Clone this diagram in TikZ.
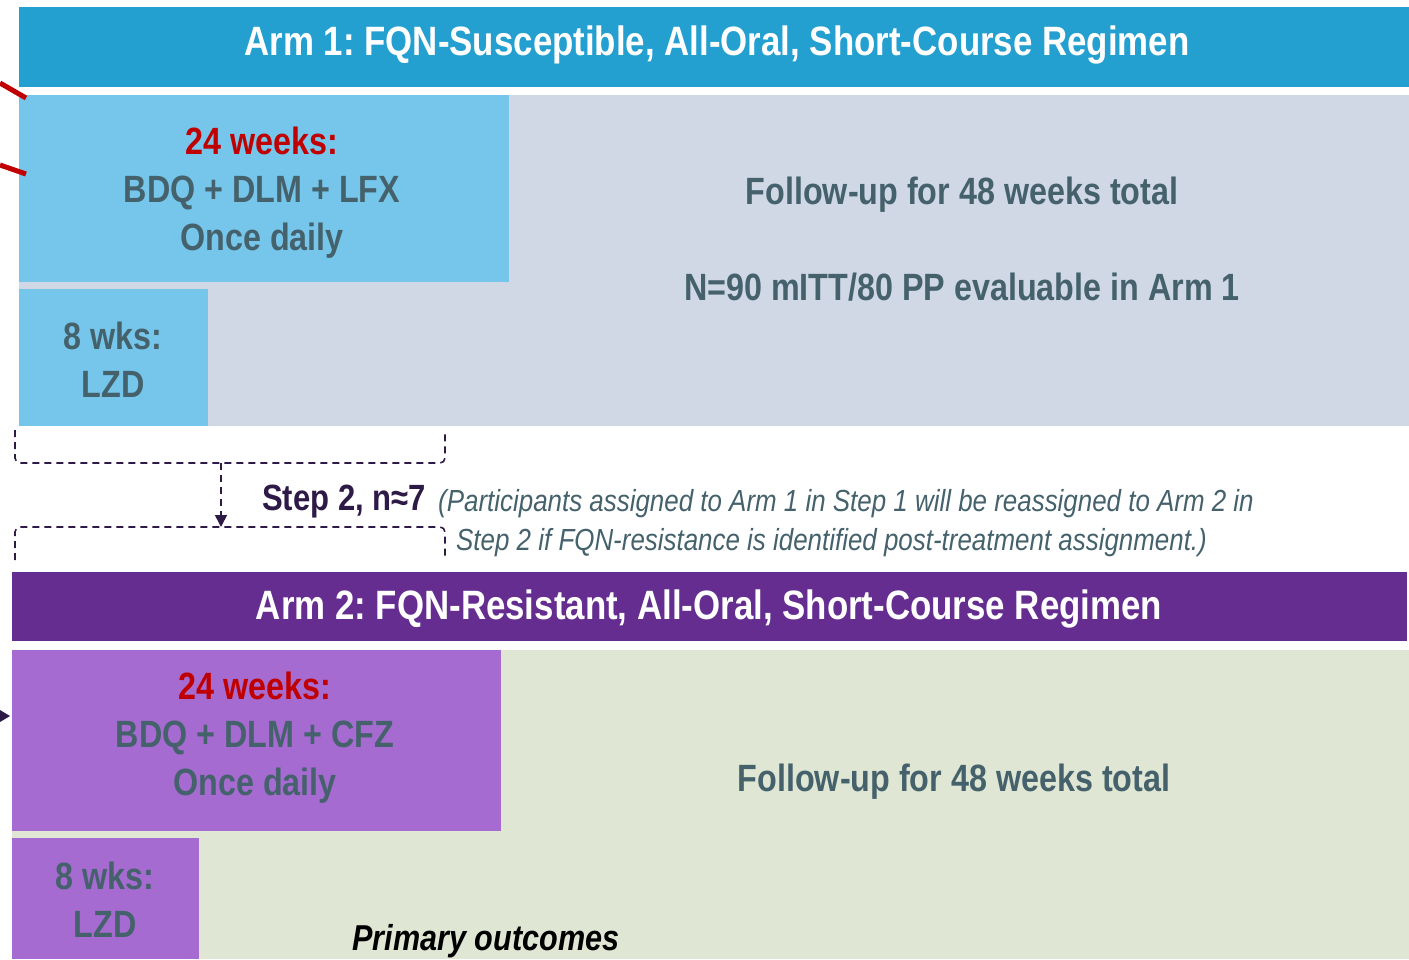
\documentclass[tikz,border=0pt]{standalone}
\usepackage{fontspec}
\setmainfont{Liberation Sans}[FakeStretch=0.85]
\usetikzlibrary{arrows.meta}
\definecolor{hdrblue}{HTML}{239FD0}
\definecolor{lightblue}{HTML}{75C6EA}
\definecolor{grayblue}{HTML}{D0D8E6}
\definecolor{hdrpurple}{HTML}{652D90}
\definecolor{lightpurple}{HTML}{A56BD1}
\definecolor{palegreen}{HTML}{DFE6D3}
\definecolor{tealgray}{HTML}{45626C}
\definecolor{darkred}{HTML}{C00000}
\definecolor{darkpurple}{HTML}{2E1A47}
\tikzset{
  box/.style={inner sep=0pt, outer sep=0pt, anchor=north west, align=center},
  hdrtext/.style={font=\fontsize{41}{48}\selectfont\bfseries, text=white},
  bodytext/.style={font=\fontsize{38}{48}\selectfont\bfseries, text=tealgray, align=center},
  dashline/.style={draw=darkpurple, line width=1.6pt, dash pattern=on 7pt off 5pt},
}
\begin{document}
\frenchspacing
\begin{tikzpicture}[x=1pt,y=-1pt]
\useasboundingbox (0,0) rectangle (1409,959);
% Arm 1
\node[box, fill=hdrblue, minimum width=1390pt, minimum height=80pt] (h1) at (19,7) {};
\node[hdrtext] (h1t) at (717,45) {Arm 1: FQN-Susceptible, All-Oral, Short-Course Regimen};
\node[box, fill=grayblue, minimum width=1390pt, minimum height=331pt] (f1) at (19,95) {};
\node[box, fill=lightblue, minimum width=490pt, minimum height=187pt] (w1) at (19,95) {};
\node[box, fill=lightblue, minimum width=189pt, minimum height=137pt] (l1) at (19,289) {};
\node[bodytext] (w1t) at (262,193) {\textcolor{darkred}{24 weeks:}\\BDQ + DLM + LFX\\Once daily};
\node[bodytext] (l1t) at (113,360) {8 wks:\\LZD};
\node[bodytext] (f1t) at (962,239) {Follow-up for 48 weeks total\\[48pt]N=90 mITT/80 PP evaluable in Arm 1};
% red lines at left
\coordinate (r1a) at (0,83); \coordinate (r1b) at (26,98);
\coordinate (r2a) at (0,165); \coordinate (r2b) at (26,174);
\draw[darkred, line width=5pt] (r1a) -- (r1b);
\draw[darkred, line width=5pt] (r2a) -- (r2b);
% brackets
\coordinate (bt) at (221,463);
\coordinate (bb) at (221,527);
\draw[dashline, rounded corners=5pt] (15,430) -- (15,463) -- (445,463) -- (445,430);
\draw[dashline, rounded corners=5pt] (15,560) -- (15,527) -- (445,527) -- (445,560);
\draw[dashline, -{Triangle[length=12pt,width=12pt]}] (bt) -- (bb);
\node[font=\fontsize{36.5}{40}\selectfont\bfseries, text=darkpurple, anchor=west, inner sep=0pt] (s2) at (262,502) {Step 2, n≈7};
\node[font=\fontsize{30.5}{39}\selectfont\itshape, text=tealgray, anchor=north west, align=left, inner sep=0pt] (s2t) at (438,489)
  {(Participants assigned to Arm 1 in Step 1 will be reassigned to Arm 2 in\\\hspace*{18pt}Step 2 if FQN-resistance is identified post-treatment assignment.)};
% Arm 2
\node[box, fill=hdrpurple, minimum width=1395pt, minimum height=69pt] (h2) at (12,572) {};
\node[hdrtext] (h2t) at (709,609) {Arm 2: FQN-Resistant, All-Oral, Short-Course Regimen};
\node[box, fill=palegreen, minimum width=1397pt, minimum height=309pt] (f2) at (12,650) {};
\node[box, fill=lightpurple, minimum width=489pt, minimum height=181pt] (w2) at (12,650) {};
\node[box, fill=lightpurple, minimum width=187pt, minimum height=121pt] (l2) at (12,838) {};
\node[bodytext] (w2t) at (255,738) {\textcolor{darkred}{24 weeks:}\\BDQ + DLM + CFZ\\Once daily};
\node[bodytext] (l2t) at (105,900) {8 wks:\\LZD};
\node[bodytext] (f2t) at (954,782) {Follow-up for 48 weeks total};
\node[font=\fontsize{36}{40}\selectfont\bfseries\itshape, text=black] (po) at (486,941) {Primary outcomes};
% small arrow at left of arm 2
\coordinate (pa) at (10,716);
\fill[darkpurple] (0,710) -- (pa) -- (0,722) -- cycle;
\end{tikzpicture}
\end{document}
